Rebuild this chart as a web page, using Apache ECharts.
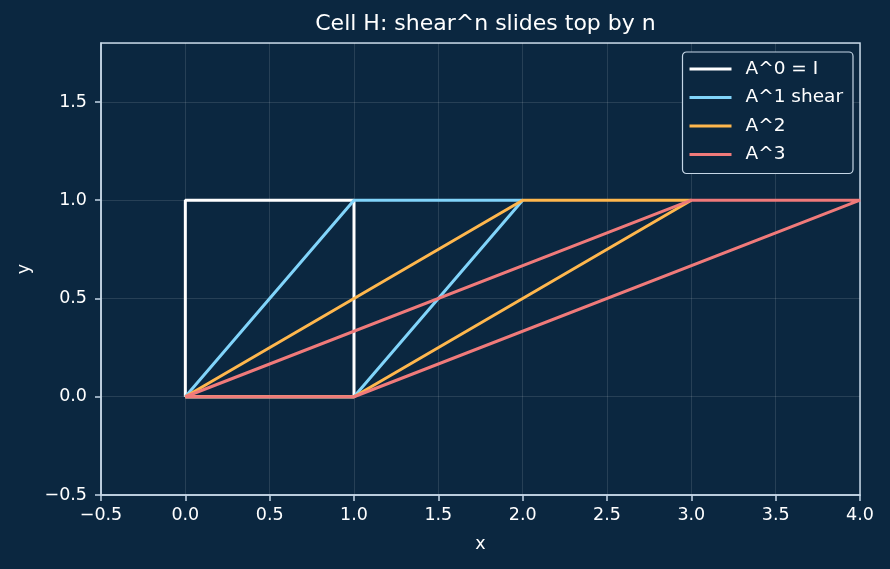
<!DOCTYPE html>
<html>
<head>
<meta charset="utf-8">
<script src="https://cdn.jsdelivr.net/npm/echarts@6/dist/echarts.min.js"></script>
<style>
  html, body { margin: 0; padding: 0; background: #0b2740; }
  #main { width: 890px; height: 569px; }
</style>
</head>
<body>
<div id="main"></div>
<script>
// polygon corners of the unit square after A^n (closed path)
var names = ['A^0 = I', 'A^1 shear', 'A^2', 'A^3'];
var colors = ['#ffffff', '#81d4fa', '#ffb74d', '#f07a7a'];
var shapeI = [[0, 0], [1, 0], [1, 1], [0, 1], [0, 0]];
var shape1 = [[0, 0], [1, 0], [2, 1], [1, 1], [0, 0]];
var shape2 = [[0, 0], [1, 0], [3, 1], [2, 1], [0, 0]];
var shape3 = [[0, 0], [1, 0], [4, 1], [3, 1], [0, 0]];
var shapes = [shapeI, shape1, shape2, shape3];

var axisCol = '#c5d6e6';
var textCol = '#ffffff';
var font = 'DejaVu Sans';

function fmt(v) {
  if (Math.abs(v * 2 - Math.round(v * 2)) > 1e-9) return '';
  return v.toFixed(1).replace('-', '\u2212');
}

var myChart = echarts.init(document.getElementById('main'));
myChart.setOption({
  backgroundColor: '#0b2740',
  animation: false,
  title: {
    text: 'Cell H: shear^n slides top by n',
    left: 480.5,
    top: 8,
    textAlign: 'center',
    textStyle: { color: textCol, fontFamily: font, fontSize: 22, fontWeight: 'normal' }
  },
  grid: {
    left: 101, right: 30, top: 43, bottom: 74,
    show: true, borderColor: axisCol, borderWidth: 1.5, backgroundColor: 'transparent'
  },
  legend: {
    orient: 'vertical',
    right: 37,
    top: 52,
    itemWidth: 42,
    itemHeight: 3,
    itemGap: 8.5,
    icon: 'rect',
    padding: [7, 10, 9, 7],
    borderColor: '#c5d6e6',
    borderWidth: 1.2,
    borderRadius: 4,
    backgroundColor: '#0b2740',
    textStyle: { color: textCol, fontFamily: font, fontSize: 18.5, lineHeight: 20, padding: [0, 0, 0, 9] },
    data: names
  },
  xAxis: {
    type: 'value',
    min: -0.5, max: 4, interval: 0.5,
    name: 'x', nameLocation: 'middle', nameGap: 40,
    nameTextStyle: { color: textCol, fontFamily: font, fontSize: 17.5 },
    axisLine: { show: true, onZero: false, lineStyle: { color: axisCol, width: 1.5 } },
    axisTick: { show: true, inside: false, length: 6, lineStyle: { color: axisCol, width: 1.5 } },
    axisLabel: { color: textCol, fontFamily: font, fontSize: 17.5, margin: 11, formatter: fmt },
    splitLine: { show: true, lineStyle: { color: 'rgba(255,255,255,0.15)', width: 0.8 } }
  },
  yAxis: {
    type: 'value',
    min: -0.5, max: 1.8, interval: 0.5,
    name: 'y', nameLocation: 'middle', nameGap: 68,
    nameTextStyle: { color: textCol, fontFamily: font, fontSize: 17.5 },
    axisLine: { show: true, onZero: false, lineStyle: { color: axisCol, width: 1.5 } },
    axisTick: { show: true, inside: false, length: 6, lineStyle: { color: axisCol, width: 1.5 } },
    axisLabel: { color: textCol, fontFamily: font, fontSize: 17.5, margin: 14, formatter: fmt, showMaxLabel: false },
    splitLine: { show: true, lineStyle: { color: 'rgba(255,255,255,0.15)', width: 0.8 } }
  },
  series: shapes.map(function (pts, i) {
    return {
      name: names[i],
      type: 'line',
      data: pts,
      showSymbol: false,
      symbol: 'none',
      color: colors[i],
      lineStyle: { color: colors[i], width: 3 },
      z: 2 + i
    };
  })
});
</script>
</body>
</html>
